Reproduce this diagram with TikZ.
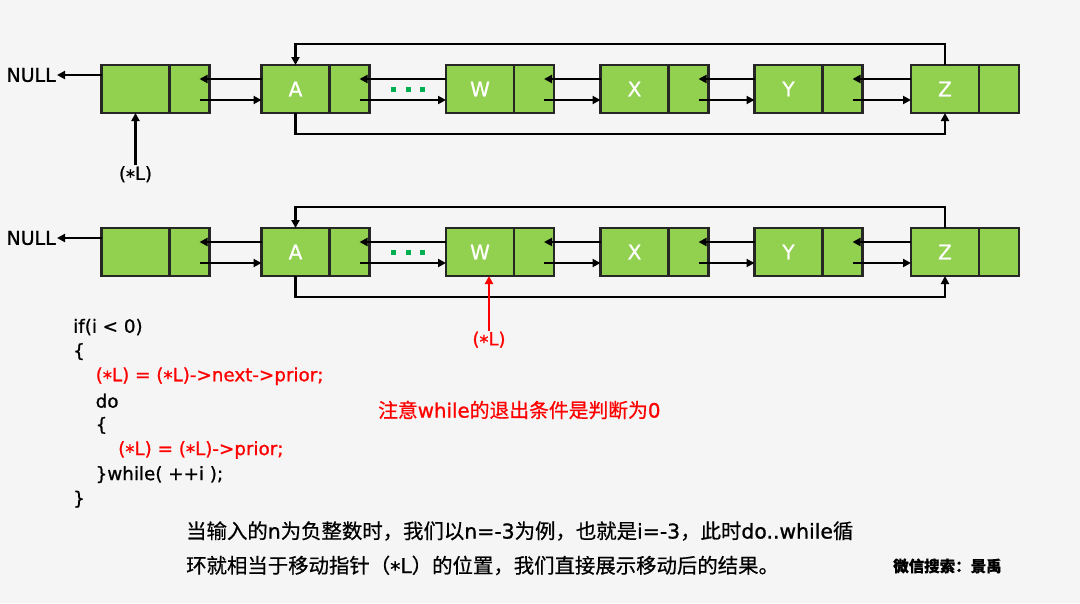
\documentclass[tikz,border=0pt]{standalone}
\usepackage{fontspec}
\setmainfont{DejaVu Sans}[FakeBold=1]
\newfontfamily\cjk{Noto Sans CJK SC}[FakeBold=0.6]
\usetikzlibrary{arrows.meta,positioning}
\definecolor{fondo}{RGB}{245,245,245}
\definecolor{verde}{RGB}{146,208,80}
\definecolor{borde}{RGB}{38,38,38}
\definecolor{puntos}{RGB}{0,176,80}
\definecolor{rojo}{RGB}{255,0,0}
\newcommand{\ptrL}{(\raisebox{-0.3ex}{*}L)}
\tikzset{
  dato/.style={draw=borde, line width=2.5pt, fill=verde, minimum width=68pt,
    minimum height=48pt, inner sep=0pt, outer sep=0pt, text=white,
    font=\fontsize{20}{20}\selectfont},
  punt/.style={dato, minimum width=40pt},
  flecha/.style={line width=2.2pt, -{Triangle[length=8pt,width=8pt]}},
  etiqueta/.style={inner sep=1pt, font=\fontsize{18}{18}\selectfont},
  codigo/.style={anchor=west, inner sep=0pt, font=\fontsize{18.3}{22}\selectfont},
}
\begin{document}
\begin{tikzpicture}[x=1pt, y=-1pt]
      % Fondo y marco de la imagen
      \fill[fondo] (0,0) rectangle (1080,603);
      \useasboundingbox (0,0) rectangle (1080,603);

      \foreach \fila/\top in {1/65,2/228} {
        % Nodos de la lista: dato + puntero
        \foreach \nom/\xi/\txt in {n/101.5/{}, A/261.5/A, W/446/W, X/600.5/X, Y/754.5/Y, Z/911/Z} {
          \node[dato] (d\nom\fila) at (\xi+34,\top+24) {\txt};
          \node[punt, right=0pt of d\nom\fila] (p\nom\fila) {};
        }
        % Enlaces prior (arriba) y next (abajo)
        \foreach \a/\b in {n/A, A/W, W/X, X/Y, Y/Z} {
          \draw[flecha] ([yshift=-14pt]d\b\fila.north west) -- ([yshift=-14pt,xshift=-10pt]p\a\fila.north east);
          \draw[flecha] ([yshift=-35pt,xshift=-10pt]p\a\fila.north east) -- ([yshift=-35pt]d\b\fila.north west);
        }
        % Cierre circular entre A y Z
        \draw[flecha] (dZ\fila.north) -- ++(0,-21) -| (dA\fila.north);
        \draw[flecha] (dA\fila.south) -- ++(0,21) -| (dZ\fila.south);
        % NULL a la izquierda
        \node[etiqueta, anchor=east, font=\fontsize{19}{19}\selectfont] (null\fila) at (57,\top+10) {NULL};
        \draw[flecha] (dn\fila.west |- null\fila) -- (null\fila.east);
        % Puntos suspensivos entre A y W
        \foreach \i in {0,1,2} {
          \fill[puntos] (391+14.5*\i,\top+21.5) rectangle ++(5,5);
        }
      }

      % Puntero (*L) antes y despues
      \node[etiqueta, below=52pt of dn1] (L1) {\ptrL};
      \draw[flecha] (L1.north) -- (dn1.south);
      \node[etiqueta, text=rojo] (L2) at (489,340) {\ptrL};
      \draw[flecha, draw=rojo, fill=rojo] (L2.north) -- (L2.north |- dW2.south);

      % Codigo
      \foreach \k/\ind/\col/\linea in {0/0/black/{if(i < 0)}, 1/0/black/{\{},
          2/1/rojo/{\ptrL{} = \ptrL->next->prior;}, 3/1/black/{do}, 4/1/black/{\{},
          5/2/rojo/{\ptrL{} = \ptrL->prior;}, 6/1/black/{\}while( ++i );}, 7/0/black/{\}}} {
        \node[codigo, text=\col] (c\k) at (73+22.5*\ind,327+24.6*\k) {\linea};
      }

      % Notas en chino (latin en DejaVu, como en el original)
      \node[anchor=west, inner sep=0pt, text=rojo, font=\fontsize{19.8}{19.8}\selectfont] (nota) at (378,410)
        {{\cjk 注意}while{\cjk 的退出条件是判断为}0};
      \node[anchor=west, inner sep=0pt, font=\fontsize{20.4}{20.4}\selectfont] (exp1) at (186,531)
        {{\cjk 当输入的}n{\cjk 为负整数时，我们以}n=-3{\cjk 为例，也就是}i=-3{\cjk ，此时}do..while{\cjk 循}};
      \node[anchor=west, inner sep=0pt, font=\fontsize{20.4}{20.4}\selectfont] (exp2) at (186,566)
        {{\cjk 环就相当于移动指针（}\raisebox{-0.3ex}{*}L{\cjk ）的位置，我们直接展示移动后的结果。}};
      \node[anchor=west, inner sep=0pt, font=\cjk\bfseries\fontsize{15.5}{15.5}\selectfont] (firma) at (893,566) {微信搜索：景禹};
    \end{tikzpicture}
\end{document}
